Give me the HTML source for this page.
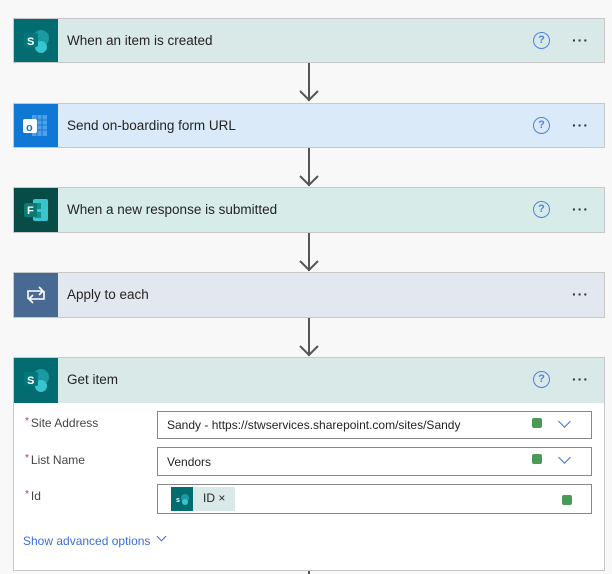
<!DOCTYPE html>
<html><head><style>
*{margin:0;padding:0;box-sizing:border-box}
body{width:612px;height:574px;background:#f8f8f8;position:relative;overflow:hidden;font-family:"Segoe UI","Liberation Sans",sans-serif;color:#252423}
.card{position:absolute;left:13px;width:592px;border:1px solid #c8c8c8;}
.hd{position:absolute;left:0;top:0;right:0;height:44px}
.ic{position:absolute;left:0;top:0;width:44px;height:100%}
.t{position:absolute;left:53px;top:14px;font-size:13.5px}
.q{position:absolute;left:519px;top:13px;width:17px;height:17px;border:1.6px solid #4f7fe6;border-radius:50%;color:#4f7fe6;font-size:11px;font-weight:bold;text-align:center;line-height:14px}
.d{position:absolute;left:558px;top:13px;font-size:14px;letter-spacing:1px;font-weight:bold;color:#333}
.arr{position:absolute;left:308px;width:2px;background:#555}
.lab{position:absolute;left:11px;font-size:12px;color:#444}
.lab b{color:#c4314b;font-weight:normal;font-size:10px;vertical-align:top;margin-right:2px}
.inp{position:absolute;left:143px;width:435px;background:#fff;border:1px solid #8a8886;font-size:12px}
.g{position:absolute;width:10px;height:10px;background:#4a9a57;border-radius:2px}
.chev{position:absolute;width:9px;height:9px;border-right:1.5px solid #3a6fd8;border-bottom:1.5px solid #3a6fd8;transform:rotate(45deg)}
</style></head><body>

<div class="card" style="top:18px;height:45px;background:#d8e9e8"><div class="ic" style="background:#036c70"><svg width="44" height="44"><circle cx="27" cy="19" r="8" fill="#1a9ba1"/><circle cx="27" cy="28" r="6" fill="#37c6d0"/><rect x="10" y="14" width="14" height="14" rx="2" fill="#03787c"/><text x="13" y="26" font-size="11" fill="#fff" font-family="Liberation Sans" font-weight="bold">S</text></svg></div><div class="t">When an item is created</div><div class="q">?</div><div class="d">···</div></div>
<div class="arr" style="top:63px;height:38px"></div><svg style="position:absolute;left:298px;top:89px" width="24" height="14"><polyline points="2,2 11,11 20,2" fill="none" stroke="#555" stroke-width="2"/></svg>

<div class="card" style="top:103px;height:45px;background:#daeaf8"><div class="ic" style="background:#0f78d4"><svg width="44" height="44"><rect x="18" y="11" width="15" height="21" fill="#50a0e8"/><path d="M18 16h15M18 21h15M18 26h15M23 11v21M28 11v21" stroke="#0f78d4"/><rect x="9" y="15" width="14" height="14" rx="2" fill="#fff"/><text x="12" y="27" font-size="11" fill="#0f78d4" font-family="Liberation Sans" font-weight="bold">o</text></svg></div><div class="t">Send on-boarding form URL</div><div class="q">?</div><div class="d">···</div></div>
<div class="arr" style="top:148px;height:38px"></div><svg style="position:absolute;left:298px;top:174px" width="24" height="14"><polyline points="2,2 11,11 20,2" fill="none" stroke="#555" stroke-width="2"/></svg>

<div class="card" style="top:187px;height:46px;background:#d7ebe9"><div class="ic" style="background:#074c47"><svg width="44" height="44"><rect x="19" y="11" width="15" height="22" rx="2" fill="#37c6d0"/><rect x="21" y="15" width="6" height="6" fill="#1a8d8a"/><rect x="21" y="24" width="6" height="6" fill="#1a8d8a"/><rect x="10" y="15" width="13" height="14" rx="2" fill="#0b7a74"/><text x="13" y="26" font-size="11" fill="#fff" font-family="Liberation Sans" font-weight="bold">F</text></svg></div><div class="t">When a new response is submitted</div><div class="q">?</div><div class="d">···</div></div>
<div class="arr" style="top:233px;height:38px"></div><svg style="position:absolute;left:298px;top:259px" width="24" height="14"><polyline points="2,2 11,11 20,2" fill="none" stroke="#555" stroke-width="2"/></svg>

<div class="card" style="top:272px;height:46px;background:#e3e7ef"><div class="ic" style="background:#486991"><svg width="44" height="44"><path d="M14 26v-8h15M25 14l4 4-4 4M30 18v8H15M19 30l-4-4 4-4" fill="none" stroke="#fff" stroke-width="1.6"/></svg></div><div class="t">Apply to each</div><div class="d">···</div></div>
<div class="arr" style="top:318px;height:38px"></div><svg style="position:absolute;left:298px;top:344px" width="24" height="14"><polyline points="2,2 11,11 20,2" fill="none" stroke="#555" stroke-width="2"/></svg>

<div class="card" style="top:357px;height:214px;background:#fff">
<div class="hd" style="background:#d8e9e8;height:45px"><div class="ic" style="background:#036c70"><svg width="44" height="45"><circle cx="27" cy="19" r="8" fill="#1a9ba1"/><circle cx="27" cy="28" r="6" fill="#37c6d0"/><rect x="10" y="14" width="14" height="14" rx="2" fill="#03787c"/><text x="13" y="26" font-size="11" fill="#fff" font-family="Liberation Sans" font-weight="bold">S</text></svg></div><div class="t">Get item</div><div class="q">?</div><div class="d">···</div></div>
<div class="lab" style="top:58px"><b>*</b>Site Address</div>
<div class="lab" style="top:95px"><b>*</b>List Name</div>
<div class="lab" style="top:131px"><b>*</b>Id</div>
<div class="inp" style="top:53px;height:28px;padding:6px 0 0 9px">Sandy - https://stwservices.sharepoint.com/sites/Sandy<div class="g" style="left:374px;top:6px"></div><div class="chev" style="left:402px;top:5px"></div></div>
<div class="inp" style="top:89px;height:29px;padding:7px 0 0 9px">Vendors<div class="g" style="left:374px;top:6px"></div><div class="chev" style="left:402px;top:5px"></div></div>
<div class="inp" style="top:126px;height:30px"><div style="position:absolute;left:13px;top:2px;width:64px;height:24px;background:#d8e9e8"><div style="width:22px;height:24px;background:#036c70"><svg width="22" height="24"><circle cx="14" cy="11" r="4" fill="#1a9ba1"/><circle cx="14" cy="15" r="3" fill="#37c6d0"/><text x="5" y="15" font-size="7" fill="#fff" font-family="Liberation Sans" font-weight="bold">s</text></svg></div><span style="position:absolute;left:32px;top:4px">ID ×</span></div><div class="g" style="left:404px;top:10px"></div></div>
<div style="position:absolute;left:9px;top:176px;font-size:12px;color:#3a6fd8">Show advanced options</div><div class="chev" style="left:144px;top:175px;width:7px;height:7px;border-width:1px"></div>
</div>
<div class="arr" style="top:571px;height:3px"></div>
</body></html>
